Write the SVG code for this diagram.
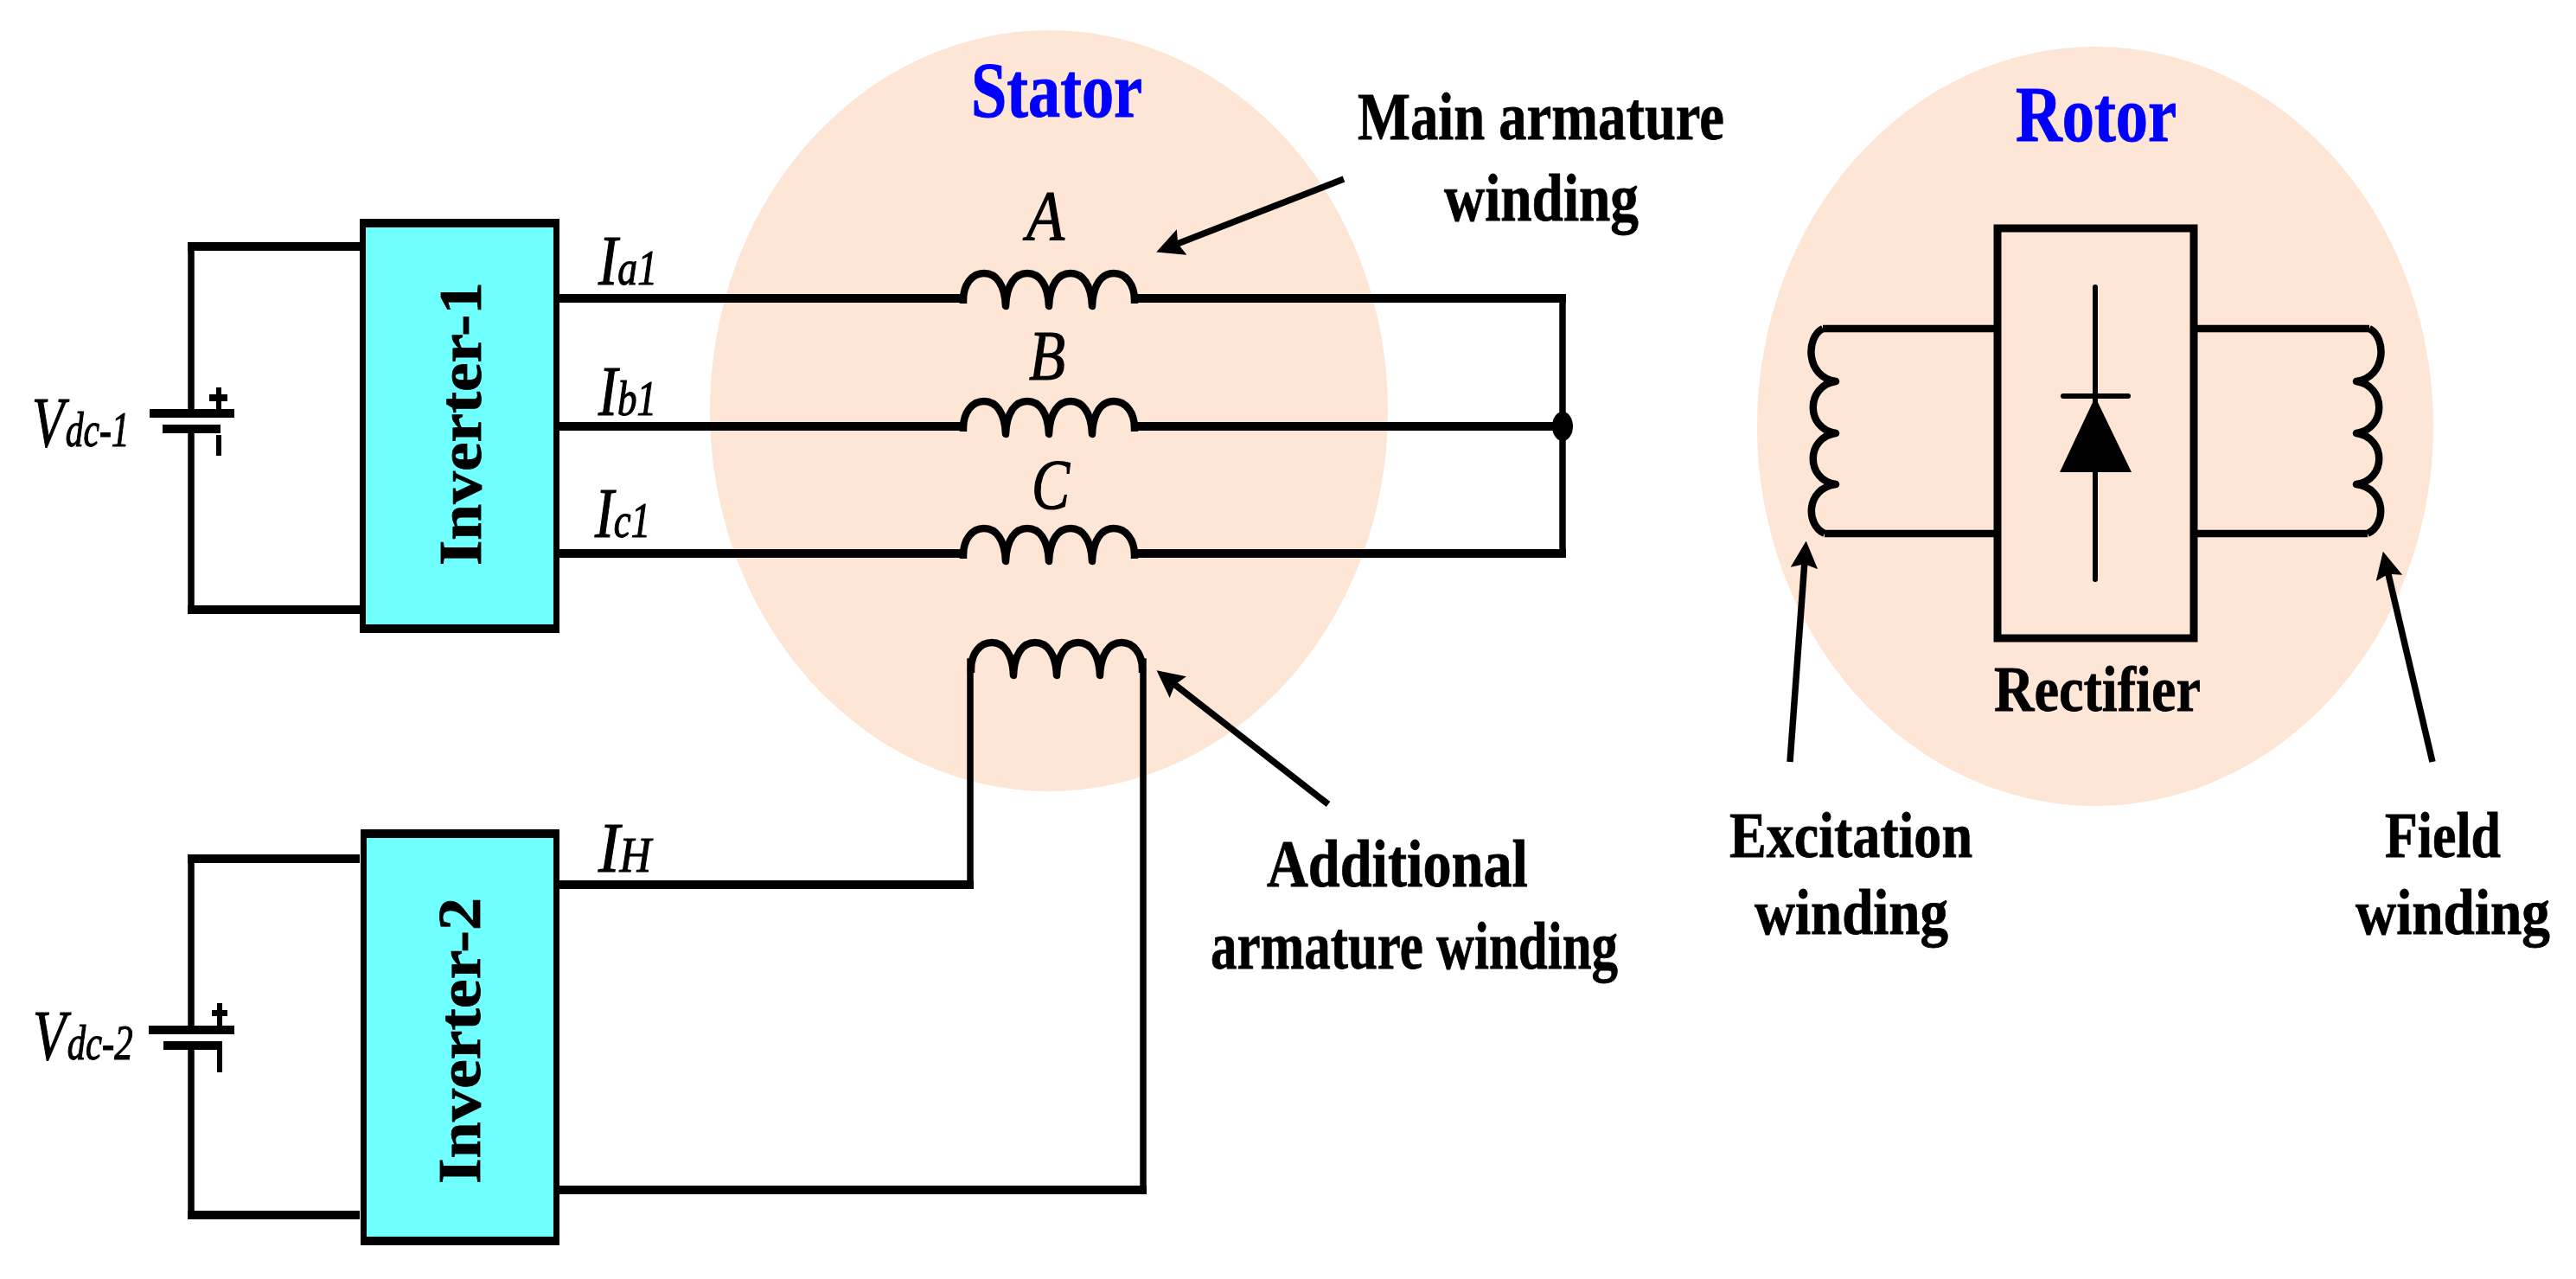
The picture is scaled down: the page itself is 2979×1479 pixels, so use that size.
<svg xmlns="http://www.w3.org/2000/svg" width="2979" height="1479" viewBox="0 0 2979 1479">
<style>
.w{fill:none;stroke:#000;stroke-width:8.5;stroke-linejoin:round}
.h{fill:none;stroke:#000;stroke-width:10;stroke-linecap:butt}
.v{fill:none;stroke:#000;stroke-width:7.5;stroke-linecap:square}
.t{stroke-width:6}
.b{fill:#000;stroke:none}
.inv{fill:#70ffff}
.bl{font-family:"Liberation Serif","Times New Roman",serif;font-weight:bold;fill:#000;stroke:#000;stroke-width:.8px;font-size:79px}
.lo{font-size:73px}
.it{font-family:"Liberation Serif","Times New Roman",serif;font-style:italic;fill:#000;stroke:#000;stroke-width:1.2px;font-size:82px}
.sub{font-size:56px}
.hd{font-family:"Liberation Serif","Times New Roman",serif;font-weight:bold;fill:#0000ff;stroke:#0000ff;stroke-width:1px;font-size:90px}
.body{fill:#fee6d7}
.ar{fill:none;stroke:#000;stroke-width:7.5}
</style>
<defs>
<path id="coil" class="w" d="M0,6V2C0,-16 10,-29 24,-29C38,-29 48,-16 49,9C50,-16 60,-29 74,-29C88,-29 98,-16 99,9C100,-16 110,-29 124,-29C138,-29 148,-16 149,9C150,-16 160,-29 174,-29C188,-29 198,-16 198,2V6"/>
<path id="sidecoil" class="w" d="M2108,380C2088,390 2088,436 2123,441C2088,446 2088,496 2123,501C2088,506 2088,555 2123,560C2088,565 2088,607 2110,617"/>
<marker id="ah" viewBox="0 0 10 10" refX="7" refY="5" markerWidth="4.2" markerHeight="4.2" orient="auto"><path d="M0,0L10,5L0,10L1.5,5Z"/></marker>
</defs>
<rect width="2979" height="1479" fill="#fff"/>
<g id="stator"><ellipse class="body" cx="1213" cy="475" rx="392" ry="440"/><text class="hd" x="1123" y="135" textLength="198" lengthAdjust="spacingAndGlyphs">Stator</text></g>
<g id="rotor"><ellipse class="body" cx="2423" cy="493" rx="391" ry="439"/><text class="hd" x="2331" y="163" textLength="186" lengthAdjust="spacingAndGlyphs">Rotor</text></g>
<g id="connectors">
<path class="h" d="M217,285H416M217,705H416M217,993H416M217,1405H416"/>
<path class="v" d="M221,285V474M221,501V705M221,993V1186M221,1214V1405"/>
<path class="h" d="M647,345H1114M1312,345H1811M647,493H1114M1312,493H1807M647,640H1114M1312,640H1811"/>
<path class="v" d="M1807,345V640"/>
<path class="h" d="M647,1023H1126M647,1376H1326"/>
<path class="v" d="M1122,1023V765M1322,1376V765"/>
<path class="w" d="M2310,380H2108M2310,617H2110M2537,380H2740M2537,617H2738"/>
<path class="ar" marker-end="url(#ah)" d="M1554,207L1346,288"/>
<path class="ar" marker-end="url(#ah)" d="M1536,930L1345,781"/>
<path class="ar" marker-end="url(#ah)" d="M2070,881L2088,635"/>
<path class="ar" marker-end="url(#ah)" d="M2813,881L2758,647"/>
</g>
<g id="inverter-1"><rect class="b" x="416" y="253" width="231" height="479"/><rect class="inv" x="423" y="263" width="217" height="459"/><text class="bl" style="font-size:70px" transform="translate(556,654) rotate(-90)" textLength="328" lengthAdjust="spacingAndGlyphs">Inverter-1</text></g>
<g id="inverter-2"><rect class="b" x="417" y="959" width="230" height="481"/><rect class="inv" x="424" y="969" width="216" height="461"/><text class="bl" style="font-size:70px" transform="translate(555,1369) rotate(-90)" textLength="331" lengthAdjust="spacingAndGlyphs">Inverter-2</text></g>
<g id="battery-1"><rect x="173" y="473" width="98" height="10" class="b"/><rect x="188" y="491" width="67" height="10" class="b"/><rect x="250" y="448" width="6" height="26" class="b"/><rect x="242" y="456" width="21" height="8" class="b"/><rect x="250" y="503" width="6" height="24" class="b"/><text class="it" transform="translate(37,516) scale(.743,1)">V<tspan class="sub" dx="2">dc-1</tspan></text></g>
<g id="battery-2"><rect x="172" y="1186" width="99" height="10" class="b"/><rect x="189" y="1204" width="68" height="10" class="b"/><rect x="251" y="1160" width="6" height="26" class="b"/><rect x="245" y="1168" width="18" height="7" class="b"/><rect x="251" y="1214" width="6" height="26" class="b"/><text class="it" transform="translate(38,1225) scale(.763,1)">V<tspan class="sub" dx="2">dc-2</tspan></text></g>
<g id="coil-a"><use href="#coil" x="1114" y="345"/><text class="it" x="1187" y="277" textLength="44" lengthAdjust="spacingAndGlyphs">A</text></g>
<g id="coil-b"><use href="#coil" x="1114" y="493"/><text class="it" x="1190" y="439" textLength="42" lengthAdjust="spacingAndGlyphs">B</text></g>
<g id="coil-c"><use href="#coil" x="1114" y="640"/><text class="it" x="1193" y="588" textLength="44" lengthAdjust="spacingAndGlyphs">C</text></g>
<g id="coil-h"><use href="#coil" x="1123" y="772"/></g>
<g id="junction"><ellipse class="b" cx="1807" cy="493" rx="12" ry="17"/></g>
<g id="currents">
<text class="it" x="692" y="329" textLength="68" lengthAdjust="spacingAndGlyphs">I<tspan class="sub">a1</tspan></text>
<text class="it" x="692" y="480" textLength="67" lengthAdjust="spacingAndGlyphs">I<tspan class="sub">b1</tspan></text>
<text class="it" x="688" y="621" textLength="64" lengthAdjust="spacingAndGlyphs">I<tspan class="sub">c1</tspan></text>
<text class="it" x="692" y="1008" textLength="61" lengthAdjust="spacingAndGlyphs">I<tspan class="sub">H</tspan></text>
</g>
<g id="rectifier"><rect x="2310" y="264" width="227" height="474" fill="none" stroke="#000" stroke-width="9"/><path class="w t" stroke-linecap="round" d="M2423,332V670M2386,458H2461"/><path class="b" d="M2423,459L2465,546H2382Z"/><text class="bl lo" x="2306" y="822" textLength="239" lengthAdjust="spacingAndGlyphs">Rectifier</text></g>
<g id="excitation-winding"><use href="#sidecoil"/><text class="bl lo" x="2000" y="991" textLength="281" lengthAdjust="spacingAndGlyphs">Excitation</text><text class="bl lo" x="2029" y="1080" textLength="224" lengthAdjust="spacingAndGlyphs">winding</text></g>
<g id="field-winding"><use href="#sidecoil" transform="translate(4848,0) scale(-1,1)"/><text class="bl lo" x="2758" y="991" textLength="134" lengthAdjust="spacingAndGlyphs">Field</text><text class="bl lo" x="2724" y="1080" textLength="225" lengthAdjust="spacingAndGlyphs">winding</text></g>
<g id="main-label"><text class="bl" x="1570" y="161" textLength="424" lengthAdjust="spacingAndGlyphs">Main armature</text><text class="bl" x="1670" y="255" textLength="225" lengthAdjust="spacingAndGlyphs">winding</text></g>
<g id="additional-label"><text class="bl" x="1465" y="1025" textLength="302" lengthAdjust="spacingAndGlyphs">Additional</text><text class="bl" x="1400" y="1120" textLength="471" lengthAdjust="spacingAndGlyphs">armature winding</text></g>
</svg>
